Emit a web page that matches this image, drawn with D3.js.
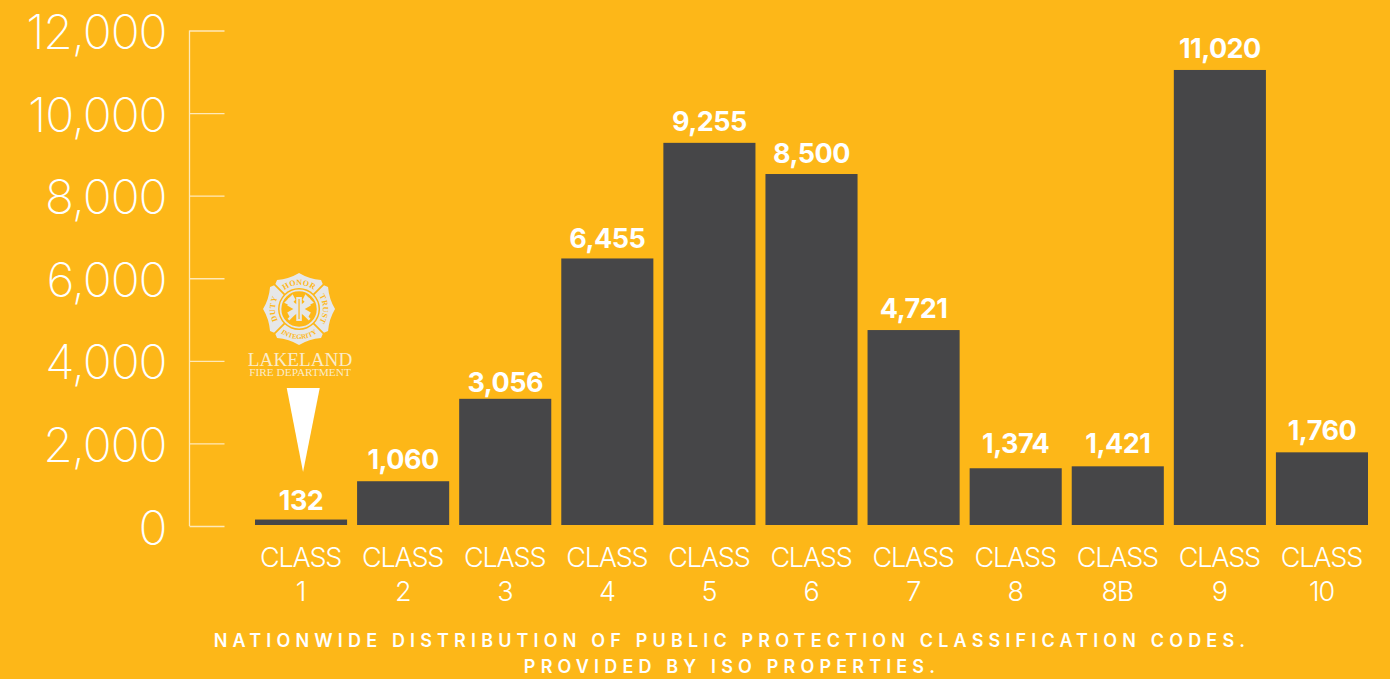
<!DOCTYPE html>
<html><head><meta charset="utf-8">
<script src="https://cdn.jsdelivr.net/npm/d3@7"></script>
<style>
html,body{margin:0;padding:0;background:#FDB718;overflow:hidden}
svg{display:block}
text{fill:#fff}
</style></head><body>
<svg id="c" width="1390" height="679"></svg>
<script>
const classLabels = ["1","2","3","4","5","6","7","8","8B","9","10"];
const classCounts = [132,1060,3056,6455,9255,8500,4721,1374,1421,11020,1760];
const yTicks = [0,2000,4000,6000,8000,10000,12000];
const captionLines = ["NATIONWIDE DISTRIBUTION OF PUBLIC PROTECTION CLASSIFICATION CODES.","PROVIDED BY ISO PROPERTIES."];
const fmt = d3.format(",");
const svg = d3.select("#c");
const bg = "#FDB718";
svg.append("rect").attr("width",1390).attr("height",679).attr("fill",bg);
const x = d3.scaleBand().domain(classLabels).range([255,1368]).paddingInner(0.098);
const y = d3.scaleLinear().domain([0,12000]).range([525,29.5]);

// axis
const axis = d3.axisLeft(y).tickValues(yTicks).tickSize(-35).tickPadding(23).tickFormat(fmt);
const ga = svg.append("g").attr("transform","translate(189.5,1)").call(axis);
ga.select(".domain").attr("stroke","#FFE9B8").attr("stroke-width",1.3).attr("d",`M0,${y(12000)}V${y(0)}`);
ga.selectAll(".tick line").attr("stroke","#FFE9B8").attr("stroke-width",1.3);
ga.selectAll(".tick text").attr("font-family","Inter").attr("font-weight",250).attr("font-size",48)
  .attr("letter-spacing",-1.1).attr("fill","#fff").attr("dy","0.375em");

// bars
svg.append("g").selectAll("rect").data(classCounts).join("rect")
  .attr("x",(d,i)=>x(classLabels[i])).attr("width",x.bandwidth())
  .attr("y",d=>y(d)).attr("height",d=>y(0)-y(d)).attr("fill","#464648");

// value labels: each sits a slightly different distance above its bar, as in the reference
const labelGap = [10,12,7,10,12,11,12,15,13,12,12];
svg.append("g").selectAll("text").data(classCounts).join("text")
  .attr("x",(d,i)=>x(classLabels[i])+x.bandwidth()/2).attr("y",(d,i)=>y(d)-labelGap[i])
  .attr("text-anchor","middle").attr("font-family","Inter").attr("font-weight",700)
  .attr("font-size",27).attr("letter-spacing",-0.5).text(fmt);

// category labels
const cat = svg.append("g").selectAll("text").data(classLabels).join("text")
  .attr("text-anchor","middle").attr("font-family","Inter").attr("font-weight",300).attr("font-size",27)
  .attr("letter-spacing",-1.2);
cat.append("tspan").attr("x",d=>x(d)+x.bandwidth()/2-0.5).attr("y",567).text("CLASS");
cat.append("tspan").attr("x",d=>x(d)+x.bandwidth()/2-0.5).attr("y",600.5).text(d=>d);

// caption
svg.append("g").selectAll("text").data(captionLines).join("text")
  .attr("x",732).attr("y",(d,i)=>647+i*26).attr("text-anchor","middle")
  .attr("font-family","Inter").attr("font-weight",600).attr("font-size",18).attr("letter-spacing",5.16)
  .attr("fill","#FFF3D6").text(d=>d);

// logo
const logo = svg.append("g").attr("transform",`translate(${x("1")+x.bandwidth()/2-0.5},0)`);
const badge = logo.append("g").attr("transform","translate(-1.5,309)");
const lc="#E6E7E8";
[0,90,180,270].forEach(a=>{
  badge.append("path").attr("transform",`rotate(${a})`)
    .attr("d","M0,0L-25,-22L-22,-29Q-10,-30 0,-36Q10,-30 22,-29L25,-22Z").attr("fill",lc);
});
badge.append("circle").attr("r",27).attr("fill",lc);
[0,90,180,270].forEach(a=>{
  badge.append("line").attr("transform",`rotate(${a+45})`).attr("x1",0).attr("x2",0).attr("y1",-20).attr("y2",-38)
    .attr("stroke",bg).attr("stroke-width",1.8);
});
badge.append("circle").attr("r",21).attr("fill",bg);
badge.append("circle").attr("r",18.6).attr("fill","none").attr("stroke",lc).attr("stroke-width",1.8);
// crossed axes
[45,-45].forEach(a=>{
  const g=badge.append("g").attr("transform",`rotate(${a})`);
  g.append("rect").attr("x",-1.2).attr("y",-15).attr("width",2.4).attr("height",30).attr("fill",lc);
  g.append("path").attr("d","M-6,-15H6L4,-9H-4Z").attr("fill",lc);
});
// star of life
[0,60,120].forEach(a=>badge.append("rect").attr("x",-2.8).attr("y",-12).attr("width",5.6).attr("height",24)
  .attr("transform",`rotate(${a})`).attr("fill",lc));
badge.append("rect").attr("x",-0.6).attr("y",-10).attr("width",1.2).attr("height",20).attr("fill",bg);
// arc lettering
const defs = svg.append("defs");
const arcs = [["HONOR",0,8,24],["TRUST",90,8,24],["DUTY",270,8,24]];
arcs.forEach(([t,a,fs,r],i)=>{
  const id="arc"+i;
  defs.append("path").attr("id",id).attr("d",`M${-r},0A${r},${r} 0 0 1 ${r},0`).attr("transform",`rotate(${a})`);
  badge.append("text").attr("text-anchor","middle").attr("font-family","Liberation Serif").attr("font-weight",700)
    .attr("font-size",fs).attr("letter-spacing",0.3).style("fill",bg)
    .append("textPath").attr("href","#"+id).attr("startOffset","50%").text(t);
});
defs.append("path").attr("id","arcB").attr("d","M-30,0A30,30 0 0 0 30,0");
badge.append("text").attr("text-anchor","middle").attr("font-family","Liberation Serif").attr("font-weight",700)
  .attr("font-size",6.8).style("fill",bg)
  .append("textPath").attr("href","#arcB").attr("startOffset","50%").text("INTEGRITY");

logo.append("text").attr("x",-0.5).attr("y",365.5).attr("text-anchor","middle").attr("font-family","Liberation Serif")
  .attr("font-size",19.2).style("fill","#FBEBC8").text("LAKELAND");
logo.append("text").attr("x",-0.5).attr("y",375.6).attr("text-anchor","middle").attr("font-family","Liberation Serif")
  .attr("font-size",11.3).style("fill","#FBEBC8").text("FIRE DEPARTMENT");
logo.append("path").attr("d",d3.line()([[-13.8,388],[19.2,388],[2.5,472]])+"Z").attr("fill","#fff");
</script>
</body></html>
